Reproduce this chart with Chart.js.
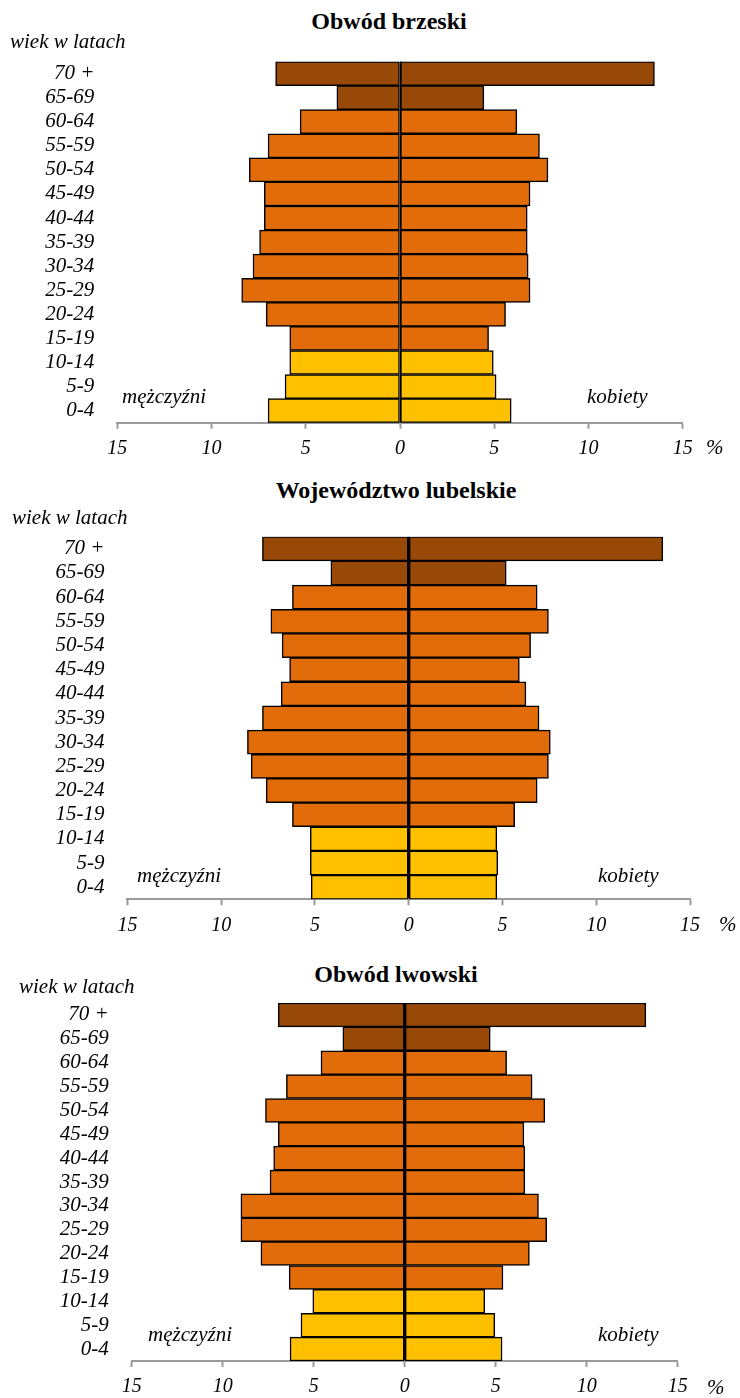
<!DOCTYPE html>
<html lang="pl">
<head>
<meta charset="utf-8">
<title>Struktura wieku</title>
<script src="https://cdn.jsdelivr.net/npm/chart.js@4.4.1/dist/chart.umd.min.js"></script>
<style>
  body { margin: 0; background: #fff; }
  #page { position: relative; width: 740px; height: 1398px; overflow: hidden; font-family: 'Liberation Serif', 'Times New Roman', serif; color: #000; }
  canvas { position: absolute; left: 0; }
  .lbl { position: absolute; font-style: italic; font-size: 21px; line-height: 24px; white-space: nowrap; }
  .title { position: absolute; font-weight: bold; font-size: 24px; line-height: 28px; white-space: nowrap; transform: translateX(-50%); }
</style>
</head>
<body>
<div id="page">
  <canvas id="chart1"></canvas>
  <canvas id="chart2"></canvas>
  <canvas id="chart3"></canvas>

  <div class="title" style="left:389px; top:7px;">Obwód brzeski</div>
  <div class="lbl" style="left:10px; top:29px;">wiek w latach</div>
  <div class="lbl" style="left:122px; top:384px;">mężczyźni</div>
  <div class="lbl" style="left:587px; top:384px;">kobiety</div>
  <div class="lbl" style="left:706px; top:435px;">%</div>

  <div class="title" style="left:396px; top:476px;">Województwo lubelskie</div>
  <div class="lbl" style="left:12px; top:505px;">wiek w latach</div>
  <div class="lbl" style="left:137px; top:863px;">mężczyźni</div>
  <div class="lbl" style="left:598px; top:863px;">kobiety</div>
  <div class="lbl" style="left:719px; top:912px;">%</div>

  <div class="title" style="left:396px; top:960px;">Obwód lwowski</div>
  <div class="lbl" style="left:19px; top:974px;">wiek w latach</div>
  <div class="lbl" style="left:148px; top:1322px;">mężczyźni</div>
  <div class="lbl" style="left:598px; top:1322px;">kobiety</div>
  <div class="lbl" style="left:707px; top:1375px;">%</div>
</div>

<script>
'use strict';

// age groups, top row first
let ageGroups = ['70 +', '65-69', '60-64', '55-59', '50-54', '45-49', '40-44', '35-39',
                 '30-34', '25-29', '20-24', '15-19', '10-14', '5-9', '0-4'];
let xTicks = [-15, -10, -5, 0, 5, 10, 15];

// % of population
let brzeskiMen   = [6.6, 3.35, 5.3, 7.0, 8.0, 7.2, 7.2, 7.45, 7.8, 8.4, 7.1, 5.85, 5.85, 6.1, 7.0];
let brzeskiWomen = [13.5, 4.45, 6.2, 7.4, 7.85, 6.9, 6.75, 6.75, 6.8, 6.9, 5.6, 4.7, 4.95, 5.1, 5.9];

let lubelskieMen   = [7.8, 4.15, 6.2, 7.35, 6.75, 6.35, 6.8, 7.8, 8.6, 8.4, 7.6, 6.2, 5.25, 5.25, 5.2];
let lubelskieWomen = [13.55, 5.2, 6.85, 7.45, 6.5, 5.9, 6.25, 6.95, 7.55, 7.45, 6.85, 5.65, 4.7, 4.75, 4.7];

let lwowskiMen   = [6.95, 3.4, 4.6, 6.5, 7.65, 6.95, 7.2, 7.4, 9.0, 9.0, 7.9, 6.35, 5.05, 5.7, 6.3];
let lwowskiWomen = [13.25, 4.7, 5.6, 7.0, 7.7, 6.55, 6.6, 6.6, 7.35, 7.8, 6.85, 5.4, 4.4, 4.95, 5.35];

// bar colour by age group
function groupColor(label){
    if(label === '70 +' || label === '65-69'){
        return '#984807';
    }
    if(label === '10-14' || label === '5-9' || label === '0-4'){
        return '#FFC000';
    }
    return '#E36C0A';
}
let barColors = ageGroups.map(groupColor);

// where each plot sits on the page
let layouts = [
    {id: 'chart1', left: 117.3, right: 682.7, top: 61.5, bottom: 422.7},
    {id: 'chart2', left: 127.4, right: 690, top: 536.7, bottom: 899.3},
    {id: 'chart3', left: 131.7, right: 677.7, top: 1003, bottom: 1361}
];

let serif = "'Liberation Serif', 'Times New Roman', serif";
let axisHeight = 40;

function renderPyramid(layout, men, women){
    let canvas = document.getElementById(layout.id);
    let canvasTop = Math.floor(layout.top) - 10;
    canvas.width = 740;
    canvas.height = Math.ceil(layout.bottom - canvasTop + axisHeight);
    canvas.style.top = canvasTop + 'px';

    let ctx = canvas.getContext('2d');
    return new Chart(ctx, {
        type: 'bar',
        data: {
            labels: ageGroups,
            datasets: [{
                label: 'mężczyźni',
                data: men.map(v => -v),
                backgroundColor: barColors,
                borderColor: '#000',
                borderWidth: 1.5,
                borderSkipped: false,
                barPercentage: 1,
                categoryPercentage: 1
            }, {
                label: 'kobiety',
                data: women,
                backgroundColor: barColors,
                borderColor: '#000',
                borderWidth: 1.5,
                borderSkipped: false,
                barPercentage: 1,
                categoryPercentage: 1
            }]
        },
        options: {
            indexAxis: 'y',
            responsive: false,
            animation: false,
            layout: {
                padding: {
                    left: 0,
                    right: 740 - layout.right,
                    top: layout.top - canvasTop,
                    bottom: canvas.height - (layout.bottom - canvasTop) - axisHeight
                }
            },
            plugins: {
                legend: {display: false},
                tooltip: {enabled: false}
            },
            scales: {
                x: {
                    stacked: true,
                    min: -15,
                    max: 15,
                    afterBuildTicks: scale => { scale.ticks = xTicks.map(v => ({value: v})); },
                    afterFit: scale => {
                        scale.height = axisHeight;
                        scale.paddingLeft = 0;
                        scale.paddingRight = 0;
                    },
                    grid: {
                        drawOnChartArea: true,
                        color: c => (c.tick && c.tick.value === 0) ? '#000' : 'rgba(0,0,0,0)',
                        lineWidth: 1,
                        tickColor: '#9a9a9a',
                        tickWidth: 2,
                        tickLength: 6
                    },
                    border: {display: true, color: '#9a9a9a', width: 2},
                    ticks: {
                        color: '#000',
                        font: {family: serif, size: 20, style: 'italic'},
                        padding: 8,
                        maxRotation: 0,
                        callback: v => Math.abs(v)
                    }
                },
                y: {
                    stacked: true,
                    afterFit: scale => {
                        scale.width = layout.left;
                        scale.paddingTop = 0;
                        scale.paddingBottom = 0;
                    },
                    grid: {display: false, drawTicks: false},
                    border: {display: false},
                    ticks: {
                        color: '#000',
                        font: {family: serif, size: 21, style: 'italic'},
                        padding: 23,
                        autoSkip: false
                    }
                }
            }
        }
    });
}

renderPyramid(layouts[0], brzeskiMen, brzeskiWomen);
renderPyramid(layouts[1], lubelskieMen, lubelskieWomen);
renderPyramid(layouts[2], lwowskiMen, lwowskiWomen);
</script>
</body>
</html>
